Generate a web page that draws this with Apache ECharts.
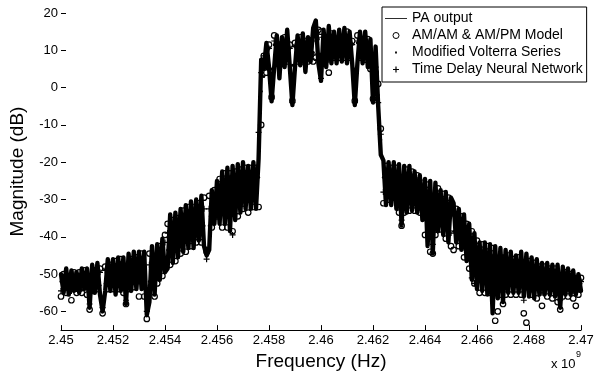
<!DOCTYPE html>
<html>
<head>
<meta charset="utf-8">
<script src="https://cdn.jsdelivr.net/npm/echarts@6/dist/echarts.min.js"></script>
<style>
html,body{margin:0;padding:0;background:#fff;}
#chart{width:604px;height:376px;}
</style>
</head>
<body>
<div id="chart"></div>
<script>
// Frequency grid (x 10^9 Hz)
var freq = [
2.4500,2.4501,2.4502,2.4503,2.4504,2.4505,2.4506,2.4507,2.4508,2.4509,
2.4510,2.4511,2.4512,2.4513,2.4514,2.4515,2.4516,2.4517,2.4518,2.4519,
2.4520,2.4521,2.4522,2.4523,2.4524,2.4525,2.4526,2.4527,2.4528,2.4529,
2.4530,2.4531,2.4532,2.4533,2.4534,2.4535,2.4536,2.4537,2.4538,2.4539,
2.4540,2.4541,2.4542,2.4543,2.4544,2.4545,2.4546,2.4547,2.4548,2.4549,
2.4550,2.4551,2.4552,2.4553,2.4554,2.4555,2.4556,2.4557,2.4558,2.4559,
2.4560,2.4561,2.4562,2.4563,2.4564,2.4565,2.4566,2.4567,2.4568,2.4569,
2.4570,2.4571,2.4572,2.4573,2.4574,2.4575,2.4576,2.4577,2.4578,2.4579,
2.4580,2.4581,2.4582,2.4583,2.4584,2.4585,2.4586,2.4587,2.4588,2.4589,
2.4590,2.4591,2.4592,2.4593,2.4594,2.4595,2.4596,2.4597,2.4598,2.4599,
2.4600,2.4601,2.4602,2.4603,2.4604,2.4605,2.4606,2.4607,2.4608,2.4609,
2.4610,2.4611,2.4612,2.4613,2.4614,2.4615,2.4616,2.4617,2.4618,2.4619,
2.4620,2.4621,2.4622,2.4623,2.4624,2.4625,2.4626,2.4627,2.4628,2.4629,
2.4630,2.4631,2.4632,2.4633,2.4634,2.4635,2.4636,2.4637,2.4638,2.4639,
2.4640,2.4641,2.4642,2.4643,2.4644,2.4645,2.4646,2.4647,2.4648,2.4649,
2.4650,2.4651,2.4652,2.4653,2.4654,2.4655,2.4656,2.4657,2.4658,2.4659,
2.4660,2.4661,2.4662,2.4663,2.4664,2.4665,2.4666,2.4667,2.4668,2.4669,
2.4670,2.4671,2.4672,2.4673,2.4674,2.4675,2.4676,2.4677,2.4678,2.4679,
2.4680,2.4681,2.4682,2.4683,2.4684,2.4685,2.4686,2.4687,2.4688,2.4689,
2.4690,2.4691,2.4692,2.4693,2.4694,2.4695,2.4696,2.4697,2.4698,2.4699,
2.4700
];

// PA output (dB)
var paOutput = [
-50,-55,-48.5,-55.5,-49,-54.5,-49.5,-55,-48.5,-54,
-48.5,-59,-47.5,-55,-47,-55.5,-60,-54.5,-46,-54.5,
-46,-55.5,-45.5,-54.5,-45.5,-58,-44.5,-54.5,-44,-54,
-44,-54,-44,-61,-57.5,-42.5,-55.5,-42,-51.5,-40.5,
-49.5,-48.5,-34,-47,-33.5,-45.5,-32.5,-44,-31.5,-43,
-30.5,-43,-30,-41,-29,-42.5,-45,-43.5,-27.5,-36.5,
-25,-36.5,-22.5,-36.5,-21.5,-38.5,-21,-35.5,-20.5,-33.5,
-20,-32.5,-21,-32.5,-20,-32.5,-19,7.5,5,12,
5.5,-3.7,5.5,14,2.5,13.5,5.5,15.5,5.5,-4.7,
5.5,14,6,14.5,4.2,13.5,7,16,18,6.5,
1.8,15.5,5.5,16.5,6.5,15,6.5,15.5,7,16,
6.5,15,6.5,-4.7,6.5,15,6.5,15,5.5,13,
-4,11,-5,-18,-19.5,-31.5,-20,-31.5,-20,-32.5,
-20.5,-37,-21,-33.5,-21,-33,-22.5,-33.5,-23.5,-35.5,
-24.5,-42.5,-25,-44.5,-25.5,-38.5,-27.5,-39.5,-28,-41.5,
-29.5,-31,-41.5,-32.5,-43.5,-34,-46.5,-36.5,-51.5,-39,
-54,-41.5,-54.5,-41.5,-55.5,-42,-60.5,-42.5,-56.5,-43,
-57.5,-43.5,-55,-44,-55,-45,-55,-44,-56,-44.5,
-56,-45.5,-56.5,-46,-55.5,-47,-55.5,-47,-55.5,-47.5,
-56,-47.5,-59,-48,-55.5,-48.5,-55.5,-49,-55.5,-50,
-54.5
];

// AM/AM & AM/PM Model (dB)
var amamModel = [
-56,-50,-55,-50.5,-57,-49.5,-55,-49.5,-55,-49,
-55.5,-59.5,-54.5,-49,-54,-48.5,-60.5,-48,-54,-47.5,
-54,-46.5,-54,-46,-55,-58,-54,-46,-53.5,-45.5,
-56,-44.5,-56,-62,-44.5,-53,-56,-52.5,-42.5,-50.5,
-39.5,-36.5,-47.5,-35.5,-46.5,-35,-44.5,-33,-44,-32,
-42.5,-32,-41.5,-31,-41.5,-29.5,-44,-29,-37.5,-27.5,
-34.5,-24.5,-37.5,-23,-37.5,-23,-38.5,-22.5,-34.5,-22,
-32.5,-21.5,-33.5,-21.5,-32,-21.5,-32,-10,8.5,4,
11.5,-2.5,14,7,11.5,7,13.5,7,11.5,-3.5,
12,7,13.5,7,12.5,7,12.5,7,8,15.5,
15,7,13.5,4,14.5,8,13,8,13.5,8,
15,8,12.5,-3.5,14,8,13,7.5,13,5,
-3,4,1,-11,-31,-21,-30,-21.5,-29.5,-21.5,
-33.5,-37,-33.5,-22,-33,-22.5,-33,-23.5,-33.5,-25.5,
-39.5,-26,-44,-44.5,-39.5,-27,-38,-28.5,-40.5,-29.5,
-42.5,-43.5,-32.5,-42.5,-34.5,-45.5,-36.5,-48.5,-38.5,-52.5,
-41,-55,-42,-55,-42.5,-55,-43,-62.5,-60,-55.5,
-58,-55.5,-45,-55.5,-46,-55.5,-45.5,-55.5,-60.5,-63,
-46.5,-55.5,-47,-56.5,-48,-58.5,-48,-56,-48.5,-56.5,
-48.5,-57.5,-59.5,-56,-49.5,-56,-50,-56.5,-58.5,-55.5,
-51
];

// Modified Volterra Series (dB)
var volterra = [
-52,-53.5,-50,-54,-51,-53,-51,-53,-51,-52.5,
-50.5,-57.5,-50,-53,-49.5,-53,-58.5,-52.5,-49,-52,
-49,-52,-49,-51.5,-49,-56,-48,-51.5,-47.5,-51,
-48,-50.5,-48.5,-59,-52,-46.5,-51,-46,-48,-44,
-45.5,-43.5,-39,-42.5,-38.5,-41,-37,-39.5,-36,-38.5,
-35,-38,-34,-37,-34,-37,-43,-37,-31,-33,
-28,-31.5,-28.5,-31,-28,-32,-28.5,-30,-26,-29,
-25,-28,-26,-28,-24.5,-28,-24,-1,3,6,
10.5,5,11.5,8.5,9,8,11.5,9,10.5,6,
11,8.5,12,9,10.5,8.5,11.5,9.5,12.5,13,
9,9,11.5,8.5,12.5,9.5,12,10,12,10,
12.5,9.5,11.5,5,12,9.5,12,9,11,7,
6,5.5,-2,-14,-24,-27,-24,-27.5,-23,-28,
-25.5,-30,-26,-29,-25.5,-29,-26,-29.5,-27,-31.5,
-30.5,-35,-33,-38,-31,-34,-31,-35,-33,-36.5,
-34.5,-38.5,-35,-39,-37,-41,-39.5,-44,-43,-47,
-45.5,-50,-46,-50,-47,-50,-47,-50.5,-45.5,-51,
-45,-51,-48,-51.5,-48.5,-52,-48,-51.5,-47.5,-51,
-49,-52,-50,-53,-50,-54,-50,-53,-50,-54,
-50,-54,-52,-54,-50.5,-54,-51,-54.5,-52,-54.5,
-52.5
];

// Time Delay Neural Network (dB)
var tdnn = [
-54.5,-51,-53,-51,-54.5,-50,-54,-50.5,-54,-50,
-53.5,-58,-53,-50,-52.5,-49.5,-59,-49,-52,-49,
-52,-48.5,-52,-48,-52.5,-57,-51.5,-48,-51,-47.5,
-52,-46.5,-53,-60,-47.5,-50.5,-46.5,-49.5,-44.5,-47.5,
-41.5,-39,-43.5,-38,-43,-37,-41,-35.5,-40,-34.5,
-39,-34,-38,-33,-38,-32.5,-46,-32.5,-34.5,-29.5,
-32,-27,-33,-26,-33,-27,-39.5,-25.5,-30.5,-24.5,
-29,-24,-30,-24,-28.5,-24,-12,4,8.5,5.5,
10.5,-3,12.5,8.5,10,8,12,9,10.5,-4,
11,8.5,12,8.5,11,8.5,11.5,9,15,13.5,
2.5,9,12,7.5,13,9.5,12,9.5,12.5,9.5,
13,9.5,11.5,-4,12.5,9.5,12,9,11.5,6.5,
-3.5,5.5,-4,-12.5,-28,-23,-27.5,-23.5,-27,-24,
-30,-35.5,-30,-24.5,-29.5,-25,-30,-25.5,-30.5,-27.5,
-35,-30,-38.5,-42,-35.5,-29.5,-35,-31,-37,-32,
-39,-34,-38.5,-35.5,-40.5,-37,-43.5,-40,-51,-52.5,
-50,-51,-45,-51,-45.5,-51.5,-45.5,-52,-47,-52,
-47.5,-52,-47,-52.5,-48,-52.5,-47.5,-52.5,-57,-52.5,
-48.5,-53,-49,-53.5,-49.5,-55,-49.5,-53.5,-49.5,-54,
-50,-55,-57,-54,-50.5,-54,-51,-54.5,-51.5,-54,
-52
];

var seriesNames = ['PA output', 'AM/AM & AM/PM Model', 'Modified Volterra Series', 'Time Delay Neural Network'];
var xTicks = [2.45, 2.452, 2.454, 2.456, 2.458, 2.46, 2.462, 2.464, 2.466, 2.468, 2.47];
var yTicks = [-60, -50, -40, -30, -20, -10, 0, 10, 20];

function pairs(ys) { return freq.map(function (f, i) { return [f, ys[i]]; }); }

var FONT = '"Liberation Sans", Arial, Helvetica, sans-serif';
var PLUS = 'path://M4,0H6V4H10V6H6V10H4V6H0V4H4Z';

var chart = echarts.init(document.getElementById('chart'), null, { renderer: 'canvas' });
chart.setOption({
  animation: false,
  backgroundColor: '#fff',
  textStyle: { fontFamily: FONT },
  grid: { left: 61, right: 23, top: 13, bottom: 41, containLabel: false },
  xAxis: {
    type: 'value', min: 2.45, max: 2.47, interval: 0.002,
    name: 'Frequency (Hz)', nameLocation: 'middle', nameGap: 25,
    nameTextStyle: { fontSize: 19, color: '#000', fontFamily: FONT, verticalAlign: 'middle' },
    axisLine: { show: true, onZero: false, lineStyle: { color: '#000', width: 1 } },
    axisTick: { show: true, inside: true, length: 5, lineStyle: { color: '#000' }, customValues: xTicks },
    axisLabel: { show: true, margin: 4, fontSize: 13, color: '#000', fontFamily: FONT, customValues: xTicks,
      formatter: function (v) { return String(parseFloat(Number(v).toFixed(3))); } },
    splitLine: { show: false }
  },
  yAxis: {
    type: 'value', min: -65, max: 20, interval: 5,
    name: 'Magnitude (dB)', nameLocation: 'middle', nameGap: 43, nameRotate: 90,
    nameTextStyle: { fontSize: 19, color: '#000', fontFamily: FONT, verticalAlign: 'middle' },
    axisLine: { show: false, onZero: false },
    axisTick: { show: true, inside: true, length: 5, lineStyle: { color: '#000' }, customValues: yTicks },
    axisLabel: { show: true, margin: 3, fontSize: 13, color: '#000', fontFamily: FONT, customValues: yTicks },
    splitLine: { show: false }
  },
  legend: {
    orient: 'vertical', left: 382, top: 7,
    padding: [3, 4, 4, 3], itemGap: 0, itemWidth: 22, itemHeight: 6,
    borderColor: '#000', borderWidth: 1, borderRadius: 0, backgroundColor: '#fff',
    textStyle: { fontSize: 14, color: '#000', fontFamily: FONT, lineHeight: 17 },
    data: [
      { name: seriesNames[0], icon: 'path://M0,0H40V1.5H0Z', itemStyle: { color: '#000', borderWidth: 0 } },
      { name: seriesNames[1], icon: 'circle', itemStyle: { color: 'rgba(0,0,0,0)', borderColor: '#000', borderWidth: 1 } },
      { name: seriesNames[2], icon: 'path://M0,0M10,10M3.5,3.5H6.5V6.5H3.5Z', itemStyle: { color: '#000', borderWidth: 0 } },
      { name: seriesNames[3], icon: PLUS, itemStyle: { color: '#000', borderWidth: 0 } }
    ]
  },
  graphic: [
    { type: 'text', left: 551, top: 358, style: { text: 'x 10', fontSize: 13, fill: '#000', fontFamily: FONT } },
    { type: 'text', left: 576, top: 350, style: { text: '9', fontSize: 9, fill: '#000', fontFamily: FONT } }
  ],
  series: [
    {
      name: seriesNames[0], type: 'line', data: pairs(paOutput), symbol: 'none', showSymbol: false,
      lineStyle: { color: '#000', width: 4.4, join: 'round', cap: 'round' }, itemStyle: { color: '#000' }, z: 2, clip: true
    },
    {
      name: seriesNames[1], type: 'scatter', data: pairs(amamModel), symbol: 'circle', symbolSize: 5.5,
      itemStyle: { color: 'rgba(0,0,0,0)', borderColor: '#000', borderWidth: 1.2, opacity: 1 }, z: 3, clip: true
    },
    {
      name: seriesNames[2], type: 'scatter', data: pairs(volterra), symbol: 'circle', symbolSize: 3,
      itemStyle: { color: '#000', opacity: 1 }, z: 3, clip: true
    },
    {
      name: seriesNames[3], type: 'scatter', data: pairs(tdnn), symbol: PLUS, symbolSize: 6,
      itemStyle: { color: '#000', opacity: 1 }, z: 3, clip: true
    }
  ]
});
</script>
</body>
</html>
